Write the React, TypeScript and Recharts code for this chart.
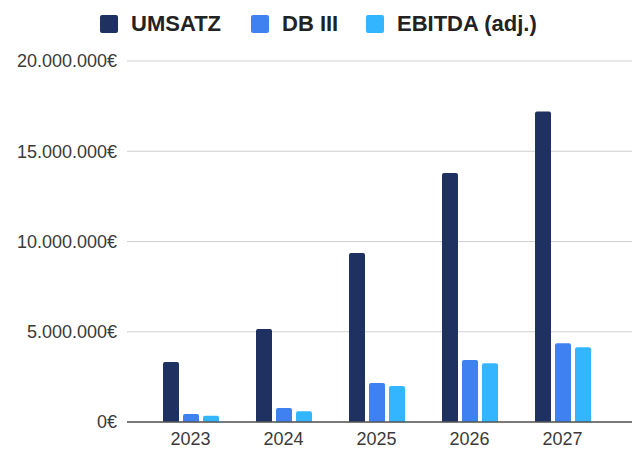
import React from "react";
import { BarChart, Bar, XAxis, YAxis, CartesianGrid } from "recharts";

const years = ["2023", "2024", "2025", "2026", "2027"];
const umsatz = [3320000, 5150000, 9360000, 13800000, 17200000];
const db3 = [440000, 780000, 2160000, 3430000, 4360000];
const ebitda = [350000, 600000, 1990000, 3250000, 4140000];
const yTicks = [0, 5000000, 10000000, 15000000, 20000000];

const seriesNames = ["UMSATZ", "DB III", "EBITDA (adj.)"];
const colors = ["#1e3160", "#3f81f0", "#33b6ff"];

const data = years.map((y, i) => ({
  year: y,
  umsatz: umsatz[i],
  db3: db3[i],
  ebitda: ebitda[i],
}));

const fmt = (v: number) =>
  String(Math.round(v)).replace(/\B(?=(\d{3})+(?!\d))/g, ".") + "€";

const legendX = [100, 251, 366];

export default function App() {
  return (
    <div
      style={{
        position: "absolute",
        left: 0,
        top: 0,
        width: 637,
        height: 451,
        background: "#fff",
        fontFamily: "'Liberation Sans', Arial, sans-serif",
      }}
    >
      {seriesNames.map((n, i) => (
        <div
          key={n}
          style={{
            position: "absolute",
            left: legendX[i],
            top: 12,
            height: 24,
            display: "flex",
            alignItems: "center",
          }}
        >
          <div
            style={{
              width: 18,
              height: 18,
              background: colors[i],
              borderRadius: 2,
              marginRight: 13,
            }}
          />
          <span style={{ fontSize: 22, fontWeight: 700, color: "#222", whiteSpace: "nowrap" }}>
            {n}
          </span>
        </div>
      ))}
      <BarChart
        width={637}
        height={451}
        data={data}
        margin={{ top: 61, right: 5, left: 0, bottom: 0 }}
        barSize={16}
        barGap={4}
      >
        <CartesianGrid vertical={false} stroke="#d0d0d0" />
        <XAxis
          dataKey="year"
          height={29}
          padding={{ left: 17, right: 23 }}
          tickLine={false}
          tickSize={0}
          tickMargin={10}
          axisLine={{ stroke: "#555", strokeWidth: 1.5 }}
          tick={{ fill: "#3a3a3a", fontSize: 18, fontFamily: "'Liberation Sans', Arial, sans-serif" }}
        />
        <YAxis
          width={127}
          domain={[0, 20000000]}
          ticks={yTicks}
          tickFormatter={fmt}
          axisLine={false}
          tickLine={false}
          tickSize={0}
          tickMargin={10}
          tick={{ fill: "#3a3a3a", fontSize: 18, fontFamily: "'Liberation Sans', Arial, sans-serif" }}
        />
        <Bar dataKey="umsatz" name={seriesNames[0]} fill={colors[0]} radius={[2, 2, 0, 0]} isAnimationActive={false} />
        <Bar dataKey="db3" name={seriesNames[1]} fill={colors[1]} radius={[2, 2, 0, 0]} isAnimationActive={false} />
        <Bar dataKey="ebitda" name={seriesNames[2]} fill={colors[2]} radius={[2, 2, 0, 0]} isAnimationActive={false} />
      </BarChart>
    </div>
  );
}
